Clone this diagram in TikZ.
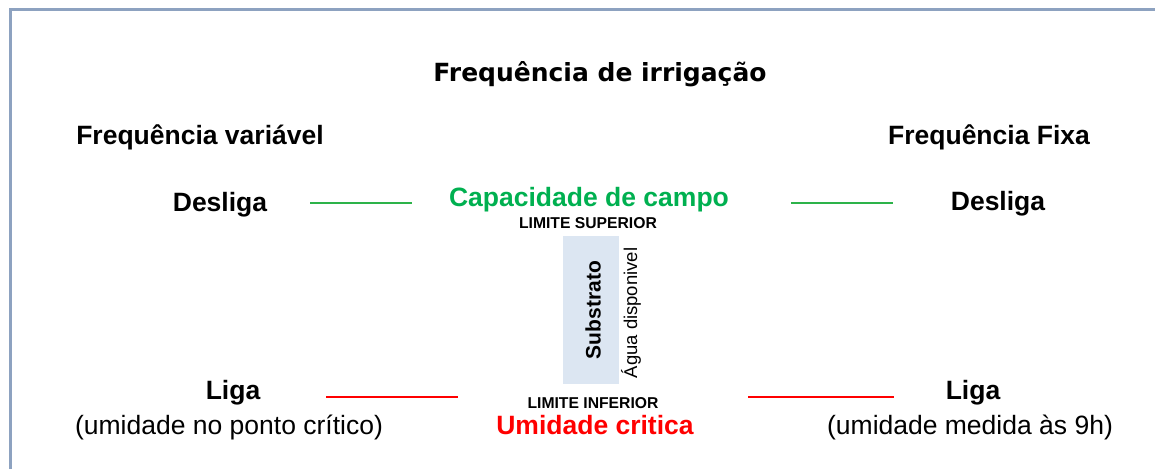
\documentclass[tikz,border=0pt]{standalone}
\usepackage{fontspec}
\setmainfont{Liberation Sans}
\newfontfamily\titlefont{DejaVu Sans}
\definecolor{frame}{HTML}{8DA2C0}
\definecolor{campo}{HTML}{00B050}
\definecolor{critred}{HTML}{FF0000}
\definecolor{boxblue}{HTML}{DCE6F2}
\definecolor{glines}{HTML}{2DB34A}
\newcommand{\fs}[1]{\fontsize{#1}{#1}\selectfont}
\tikzset{
  lbl/.style={inner sep=0pt, anchor=center, font=\bfseries\fs{26.5}},
  plain/.style={inner sep=0pt, anchor=center, font=\fs{26.5}},
  small/.style={inner sep=0pt, anchor=center, font=\bfseries\fs{15.7}},
  gline/.style={draw=glines, line width=1.2pt},
  rline/.style={draw=critred, line width=1.2pt},
}
\begin{document}
\begin{tikzpicture}[x=1pt,y=-1pt]
\useasboundingbox (0,0) rectangle (1155,469);
% frame
\draw[frame, line width=3pt] (10,469) -- (10,9) -- (1155,9);
% title
\node[inner sep=0pt, font=\titlefont\bfseries\fs{25}] (title) at (600,74) {Frequência de irrigação};
\node[lbl] (fv) at (200,137) {Frequência variável};
\node[lbl] (ff) at (989,137) {Frequência Fixa};
% upper row
\node[lbl] (dl) at (220,205) {Desliga};
\node[lbl, text=campo] (cc) at (589,200) {Capacidade de campo};
\node[lbl] (dr) at (998,204) {Desliga};
\node[small] (ls) at (588,223) {LIMITE SUPERIOR};
\coordinate (g1a) at (310,203); \coordinate (g1b) at (412,203);
\coordinate (g2a) at (791,203); \coordinate (g2b) at (893,203);
\draw[gline] (g1a) -- (g1b);
\draw[gline] (g2a) -- (g2b);
% substrate box
\node[fill=boxblue, minimum width=56pt, minimum height=148pt, inner sep=0pt, anchor=north west] (box) at (563,236) {};
\node[inner sep=0pt, rotate=90, font=\bfseries\fs{21}] (sub) at (593,310) {Substrato};
\node[inner sep=0pt, rotate=90, font=\fs{18.5}] (agua) at (631,313) {Água disponivel};
% lower row
\node[small] (li) at (593,403) {LIMITE INFERIOR};
\node[lbl, text=critred] (uc) at (595,425) {Umidade critica};
\node[lbl] (ll) at (233,393) {Liga};
\node[plain] (ul) at (229,427) {(umidade no ponto crítico)};
\node[lbl] (lr) at (973,393) {Liga};
\node[plain] (ur) at (970,427) {(umidade medida às 9h)};
\coordinate (r1a) at (326,397); \coordinate (r1b) at (458,397);
\coordinate (r2a) at (748,397); \coordinate (r2b) at (894,397);
\draw[rline] (r1a) -- (r1b);
\draw[rline] (r2a) -- (r2b);
\end{tikzpicture}
\end{document}
